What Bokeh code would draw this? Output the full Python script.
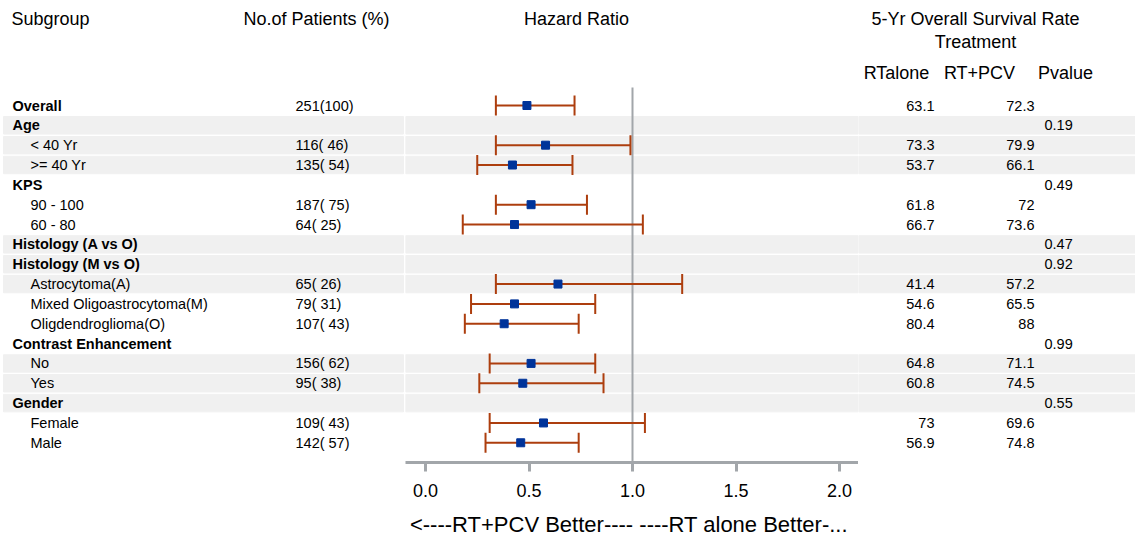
from bokeh.plotting import figure
from bokeh.models import Range1d, ColumnDataSource, Whisker, TeeHead, FixedTicker, PrintfTickFormatter
from bokeh.layouts import row
from bokeh.embed import file_html
from bokeh.resources import INLINE
from bokeh.core.properties import value

# ---------------- data ----------------
subgroups = ["Overall", "Age", "< 40 Yr", ">= 40 Yr", "KPS", "90 - 100", "60 - 80",
             "Histology (A vs O)", "Histology (M vs O)", "Astrocytoma(A)",
             "Mixed Oligoastrocytoma(M)", "Oligdendroglioma(O)", "Contrast Enhancement",
             "No", "Yes", "Gender", "Female", "Male"]
is_group = [True, True, False, False, True, False, False, True, True, False,
            False, False, True, False, False, True, False, False]
n_pct = ["251(100)", "", "116( 46)", "135( 54)", "", "187( 75)", "64( 25)", "", "",
         "65( 26)", "79( 31)", "107( 43)", "", "156( 62)", "95( 38)", "", "109( 43)", "142( 57)"]
hr = [0.49, None, 0.58, 0.42, None, 0.51, 0.43, None, None, 0.64, 0.43, 0.38,
      None, 0.51, 0.47, None, 0.57, 0.46]
hr_lo = [0.34, None, 0.34, 0.25, None, 0.34, 0.18, None, None, 0.34, 0.22, 0.19,
         None, 0.31, 0.26, None, 0.31, 0.29]
hr_hi = [0.72, None, 0.99, 0.71, None, 0.78, 1.05, None, None, 1.24, 0.82, 0.74,
         None, 0.82, 0.86, None, 1.06, 0.74]
rt_alone = ["63.1", "", "73.3", "53.7", "", "61.8", "66.7", "", "", "41.4", "54.6", "80.4",
            "", "64.8", "60.8", "", "73", "56.9"]
rt_pcv = ["72.3", "", "79.9", "66.1", "", "72", "73.6", "", "", "57.2", "65.5", "88",
          "", "71.1", "74.5", "", "69.6", "74.8"]
pvalue = ["", "0.19", "", "", "0.49", "", "", "0.47", "0.92", "", "", "", "0.99",
          "", "", "0.55", "", ""]
shaded_rows = [1, 2, 3, 7, 8, 9, 13, 14, 15]
x_ticks = [0.0, 0.5, 1.0, 1.5, 2.0]
null_effect = 1.0

# ---------------- styling / layout constants ----------------
FONT = "Liberation Sans"
ROW0_PX, ROW_PX = 105.0, 19.84
TOP_PX, BOT_PX = 0, 462
H = 541
MB = H - (BOT_PX - TOP_PX)
HR0_PX, HR_UNIT_PX = 425.0, 207.0
BAND = "#F0F0F0"
BAR = "#AD3E0E"
MARK = "#003399"
GRAY = "#A2A6AA"
ROW_FS = "14.5px"
HEAD_FS = "18px"


def ry(px):
    return (px - ROW0_PX) / ROW_PX


def hx(px):
    return (px - HR0_PX) / HR_UNIT_PX


rows = list(range(len(subgroups)))
y_range = Range1d(ry(BOT_PX), ry(TOP_PX))


def make(width, x_range, xaxis=False):
    p = figure(width=width, height=H, x_range=x_range, y_range=y_range,
               output_backend="svg", toolbar_location=None,
               x_axis_location="below" if xaxis else None, y_axis_location=None,
               min_border_left=0, min_border_right=0, min_border_top=0,
               min_border_bottom=MB)
    p.outline_line_color = None
    p.grid.visible = False
    p.background_fill_color = "white"
    p.border_fill_color = "white"
    return p


def txt(p, x, y, text, size=ROW_FS, align="left", style="normal"):
    p.text(x=x, y=y, text=text, text_font=value(FONT), text_font_size=size,
           text_align=align, text_baseline="middle", text_color="black",
           text_font_style=style)


# ---------------- left table ----------------
left = make(405, Range1d(0, 405))
left.hbar(y=shaded_rows, left=3, right=403, height=0.88, color=BAND)
g_rows = [r for r in rows if is_group[r]]
s_rows = [r for r in rows if not is_group[r]]
txt(left, [12] * len(g_rows), g_rows, [subgroups[r] for r in g_rows], style="bold")
txt(left, [30] * len(s_rows), s_rows, [subgroups[r] for r in s_rows])
txt(left, [295] * len(rows), rows, n_pct)
txt(left, [11], [ry(18)], ["Subgroup"], size=HEAD_FS)
txt(left, [243], [ry(18)], ["No.of Patients (%)"], size=HEAD_FS)

# ---------------- forest plot ----------------
mid = make(453, Range1d(hx(405), hx(858)), xaxis=True)
mid.hbar(y=shaded_rows, left=hx(405), right=hx(858), height=0.88, color=BAND)
mid.segment(x0=[null_effect], y0=[ry(87)], x1=[null_effect], y1=[ry(BOT_PX)],
            line_color=GRAY, line_width=2)
d_rows = [r for r in rows if hr[r] is not None]
src = ColumnDataSource(dict(
    row=d_rows,
    hr=[hr[r] for r in d_rows],
    lo=[hr_lo[r] for r in d_rows],
    hi=[hr_hi[r] for r in d_rows],
))
wh = Whisker(source=src, base="row", lower="lo", upper="hi", dimension="width",
             line_color=BAR, line_width=2, level="annotation",
             lower_head=TeeHead(size=20, line_color=BAR, line_width=2),
             upper_head=TeeHead(size=20, line_color=BAR, line_width=2))
mid.add_layout(wh)
sq = mid.scatter(x="hr", y="row", source=src, marker="square", size=8,
                 fill_color=MARK, line_color=MARK)
sq.level = "overlay"
txt(mid, [hx(576)], [ry(18)], ["Hazard Ratio"], size=HEAD_FS, align="center")

ax = mid.xaxis[0]
ax.ticker = FixedTicker(ticks=x_ticks)
ax.formatter = PrintfTickFormatter(format="%.1f")
ax.axis_line_color = GRAY
ax.axis_line_width = 3
ax.major_tick_line_color = GRAY
ax.major_tick_line_width = 3
ax.major_tick_in = 0
ax.major_tick_out = 9
ax.minor_tick_line_color = None
ax.major_label_text_font = FONT
ax.major_label_text_font_size = "18px"
ax.major_label_text_color = "black"
ax.major_label_standoff = 12
ax.axis_label = "<----RT+PCV Better----  ----RT alone Better-..."
ax.axis_label_text_font = FONT
ax.axis_label_text_font_size = "22px"
ax.axis_label_text_font_style = "normal"
ax.axis_label_text_color = "black"
ax.axis_label_standoff = 12

# ---------------- right table ----------------
right = make(277, Range1d(858, 1135))
right.hbar(y=shaded_rows, left=858, right=1135, height=0.88, color=BAND)
txt(right, [934] * len(rows), rows, rt_alone, align="right")
txt(right, [1034] * len(rows), rows, rt_pcv, align="right")
txt(right, [1044] * len(rows), rows, pvalue)
txt(right, [975], [ry(18)], ["5-Yr Overall Survival Rate"], size=HEAD_FS, align="center")
txt(right, [975], [ry(41)], ["Treatment"], size=HEAD_FS, align="center")
txt(right, [896], [ry(72)], ["RTalone"], size=HEAD_FS, align="center")
txt(right, [979], [ry(72)], ["RT+PCV"], size=HEAD_FS, align="center")
txt(right, [1065], [ry(72)], ["Pvalue"], size=HEAD_FS, align="center")

layout = row(left, mid, right, spacing=0)
open("out.html", "w").write(file_html(layout, INLINE))
